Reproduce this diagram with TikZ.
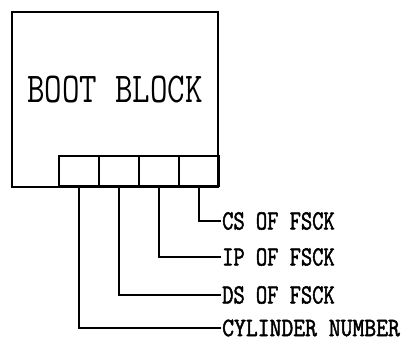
\documentclass[tikz,border=0pt]{standalone}
\usepackage{fontspec}
\usepackage{graphicx}
\newfontfamily\tagfont[FakeBold=2]{Latin Modern Mono}

\begin{document}
\begin{tikzpicture}[x=1pt,y=-1pt,
		lin/.style={line width=2.2pt},
		block/.style={draw,lin,inner sep=0pt},
		field/.style={block,minimum width=40pt,minimum height=30pt},
		tag/.style={anchor=west,inner sep=1pt,font=\tagfont\fontsize{23}{23}\selectfont}]
		\useasboundingbox (0,0) rectangle (417,344);
		% boot block with its four fields
		\node[block,minimum width=206pt,minimum height=175pt] (boot) at (115,99.5) {};
		\node (title) at (115,90) {\ttfamily\fontsize{34}{34}\selectfont\scalebox{1}[1.25]{BOOT BLOCK}};
		\foreach \i in {1,...,4}
			\node[field,anchor=south west] (f\i) at (18+40*\i,187) {};
		% labels
		\node[tag] (cs) at (221,221) {\scalebox{0.95}[1.2]{CS OF FSCK}};
		\node[tag] (ip) at (221,257) {\scalebox{0.95}[1.2]{IP OF FSCK}};
		\node[tag] (ds) at (221,295) {\scalebox{0.95}[1.2]{DS OF FSCK}};
		\node[tag] (cyl) at (221,328) {\scalebox{1}[1.15]{CYLINDER NUMBER}};
		\draw[lin] (f4.south) |- (cs.west);
		\draw[lin] (f3.south) |- (ip.west);
		\draw[lin] (f2.south) |- (ds.west);
		\draw[lin] (f1.south) |- (cyl.west);
	\end{tikzpicture}
\end{document}
